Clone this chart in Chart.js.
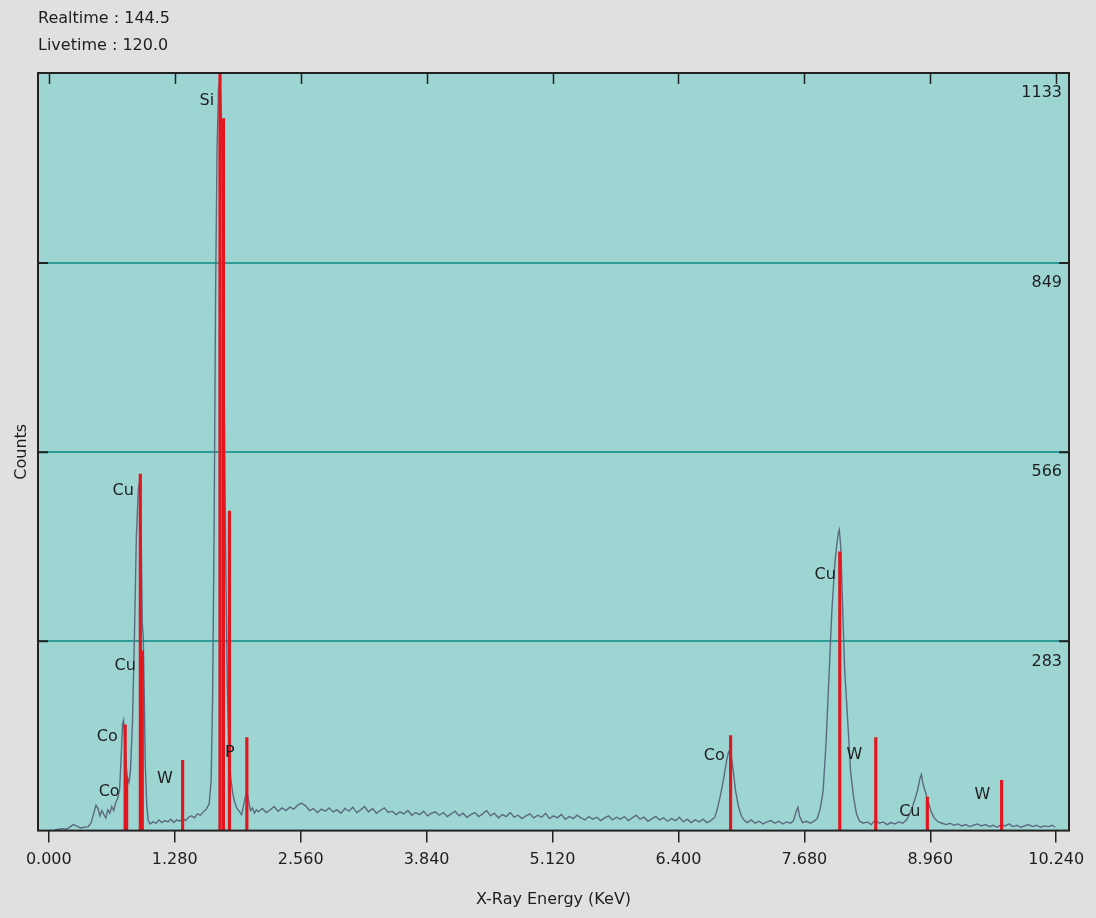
<!DOCTYPE html>
<html>
<head>
<meta charset="utf-8">
<script src="https://cdn.jsdelivr.net/npm/chart.js@4.4.1/dist/chart.umd.min.js"></script>
<style>
  html, body { margin: 0; padding: 0; background: #e0e0e0; }
  #wrap { width: 1096px; height: 918px; }
</style>
</head>
<body>
<div id="wrap"><canvas id="myChart" width="1096" height="918"></canvas></div>
<script>
// acquisition info
var realtime = '144.5';
var livetime = '120.0';

// axis ticks
var xTicks = [0, 1.28, 2.56, 3.84, 5.12, 6.40, 7.68, 8.96, 10.24];
var xTickLabels = ['0.000', '1.280', '2.560', '3.840', '5.120', '6.400', '7.680', '8.960', '10.240'];
var yTicks = [0, 283, 566, 849, 1133];

// spectrum (energy in keV, counts)
var energies = [
  0.06, 0.10, 0.14, 0.18, 0.22, 0.25, 0.28, 0.32, 0.36, 0.40, 0.43, 0.46, 0.48, 0.50, 0.52, 0.54, 0.56, 0.58, 0.60, 0.62,
  0.64, 0.66, 0.68, 0.70, 0.72, 0.735, 0.75, 0.76, 0.77, 0.785, 0.80, 0.815, 0.83, 0.85, 0.87, 0.89, 0.91, 0.925, 0.94, 0.95,
  0.96, 0.97, 0.98, 0.995, 1.01, 1.03, 1.06, 1.09, 1.12, 1.15, 1.18, 1.21, 1.24, 1.27, 1.30, 1.33, 1.36, 1.39, 1.42, 1.45,
  1.48, 1.51, 1.54, 1.57, 1.60, 1.63, 1.65, 1.665, 1.68, 1.695, 1.71, 1.725, 1.74, 1.755, 1.77, 1.785, 1.80, 1.815, 1.83, 1.85,
  1.87, 1.89, 1.91, 1.93, 1.96, 1.98, 2.00, 2.015, 2.03, 2.05, 2.07, 2.09, 2.11,
  2.13, 2.17, 2.21, 2.25, 2.29, 2.33, 2.37, 2.41, 2.45, 2.49, 2.53, 2.57, 2.61, 2.65, 2.69, 2.73, 2.77, 2.81, 2.85, 2.89,
  2.93, 2.97, 3.01, 3.05, 3.09, 3.13, 3.17, 3.21, 3.25, 3.29, 3.33, 3.37, 3.41, 3.45, 3.49, 3.53, 3.57, 3.61, 3.65, 3.69,
  3.73, 3.77, 3.81, 3.85, 3.89, 3.93, 3.97, 4.01, 4.05, 4.09, 4.13, 4.17, 4.21, 4.25, 4.29, 4.33, 4.37, 4.41, 4.45, 4.49,
  4.53, 4.57, 4.61, 4.65, 4.69, 4.73, 4.77, 4.81, 4.85, 4.89, 4.93, 4.97, 5.01, 5.05, 5.09, 5.13, 5.17, 5.21, 5.25, 5.29,
  5.33, 5.37, 5.41, 5.45, 5.49, 5.53, 5.57, 5.61, 5.65, 5.69, 5.73, 5.77, 5.81, 5.85, 5.89, 5.93, 5.97, 6.01, 6.05, 6.09,
  6.13, 6.17, 6.21, 6.25, 6.29, 6.33, 6.37, 6.41, 6.45, 6.49, 6.53, 6.57, 6.61, 6.65, 6.69, 6.73,
  6.77, 6.80, 6.83, 6.86, 6.89, 6.91, 6.925, 6.94, 6.96, 6.98, 7.01, 7.04, 7.07, 7.10, 7.14, 7.18, 7.22, 7.26, 7.30, 7.34,
  7.38, 7.42, 7.46, 7.50, 7.54, 7.57, 7.60, 7.615, 7.63, 7.66, 7.70, 7.74, 7.78, 7.81, 7.84, 7.87, 7.90, 7.93, 7.96, 7.99,
  8.01, 8.025, 8.035, 8.05, 8.07, 8.09, 8.11, 8.13, 8.15, 8.18, 8.21, 8.24, 8.28, 8.32, 8.36, 8.40, 8.44, 8.48, 8.52, 8.56,
  8.60, 8.64, 8.68, 8.72, 8.76, 8.80, 8.83, 8.855, 8.87, 8.885, 8.91, 8.94, 8.97, 9.00, 9.04, 9.08, 9.12, 9.16, 9.20, 9.24,
  9.28, 9.32, 9.36, 9.40, 9.44, 9.48, 9.52, 9.56, 9.60, 9.64, 9.68, 9.72, 9.76, 9.80, 9.84, 9.88, 9.92, 9.96, 10.00, 10.04,
  10.08, 10.12, 10.16, 10.20, 10.23
];
var counts = [
  1, 2, 3, 2, 6, 9, 7, 4, 5, 6, 12, 28, 38, 33, 22, 30, 24, 19, 31, 26,
  36, 30, 42, 48, 62, 110, 160, 165, 140, 100, 78, 72, 90, 160, 290, 440, 510, 525, 430, 310,
  290, 200, 100, 40, 15, 10, 13, 11, 16, 12, 15, 13, 17, 12, 16, 14, 18, 15, 20, 22,
  19, 25, 23, 28, 32, 40, 75, 200, 450, 800, 1020, 1110, 1125, 1060, 880, 620, 380, 210, 120, 78,
  55, 42, 34, 30, 24, 38, 52, 58, 45, 30, 34, 26, 31,
  28, 33, 27, 31, 36, 29, 34, 30, 35, 32, 38, 41, 37, 30, 33, 27, 32, 29, 34, 28,
  31, 26, 33, 29, 35, 27, 31, 36, 28, 33, 26, 30, 34, 27, 29, 24, 28, 25, 30, 23,
  27, 24, 29, 22, 26, 28, 23, 27, 21, 25, 29, 22, 26, 20, 24, 27, 21, 25, 30, 22,
  26, 19, 24, 21, 27, 20, 23, 18, 22, 25, 19, 23, 20, 26, 18, 22, 19, 24, 17, 21,
  18, 23, 19, 16, 21, 17, 20, 15, 19, 22, 16, 20, 17, 21, 15, 19, 23, 17, 20, 14,
  18, 21, 16, 19, 14, 18, 15, 20, 13, 17, 12, 16, 13, 17, 12, 15,
  20, 35, 55, 78, 105, 118, 121, 108, 86, 60, 36, 22, 15, 12, 16, 11, 14, 10, 13, 15,
  11, 14, 10, 13, 11, 15, 30, 35, 22, 12, 14, 11, 14, 18, 32, 58, 130, 230, 330, 400,
  428, 445, 450, 425, 330, 240, 190, 140, 88, 50, 25, 14, 11, 13, 9, 16, 11, 13, 9, 12,
  10, 13, 11, 16, 28, 45, 60, 78, 84, 70, 58, 42, 28, 19, 13, 11, 9, 11, 8, 10,
  7, 9, 6, 8, 10, 7, 9, 6, 8, 5, 9, 7, 10, 6, 8, 5, 7, 9, 6, 8,
  5, 7, 6, 8, 5
];

// element marker lines (keV, height in counts)
var lineEnergies = [0.776, 0.791, 0.930, 0.950, 1.360, 1.740, 1.775, 1.836, 2.013, 6.930, 8.040, 8.406, 8.930, 9.685];
var lineHeights = [158, 80, 533, 269, 105, 1250, 1065, 478, 139, 142, 417, 139, 50, 75];

// element labels (text, right edge keV, counts)
var labelTexts = ['Si', 'Cu', 'Cu', 'Co', 'Co', 'W', 'P', 'Co', 'Cu', 'W', 'Cu', 'W'];
var labelEnergies = [1.68, 0.865, 0.885, 0.70, 0.72, 1.26, 1.89, 6.87, 8.00, 8.27, 8.86, 9.57];
var labelCounts = [1092, 508, 247, 140, 58, 77, 117, 112, 383, 114, 28, 53];

var FONT = 'DejaVu Sans';
var TEXT = '#1e1e1e';

//Build point lists
var spectrum = energies.map(function(e, i){ return {x: e, y: counts[i]}; });
var markers = lineEnergies.map(function(e, i){ return {x: e, y: lineHeights[i]}; });

//Plot background, frame, ticks and texts
var framePlugin = {
    id: 'frame',
    beforeDraw: function(chart){
        var c = chart.ctx, a = chart.chartArea;
        c.save();
        c.fillStyle = '#e0e0e0';
        c.fillRect(0, 0, chart.width, chart.height);
        c.fillStyle = '#9dd5d2';
        c.fillRect(a.left, a.top, a.right - a.left, a.bottom - a.top);
        c.restore();
    },
    afterDraw: function(chart){
        var c = chart.ctx, a = chart.chartArea;
        var xs = chart.scales.x, ys = chart.scales.y;
        c.save();
        c.strokeStyle = '#222';
        c.lineWidth = 2;
        c.strokeRect(a.left, a.top, a.right - a.left, a.bottom - a.top);

        // ticks pointing into the plot along the top
        c.lineWidth = 1.5;
        xTicks.forEach(function(v){
            var px = Math.round(xs.getPixelForValue(v)) + 0.5;
            c.beginPath();
            c.moveTo(px, a.top);
            c.lineTo(px, a.top + 11);
            c.stroke();
        });
        // dark ends of the grid lines
        c.lineWidth = 2;
        yTicks.slice(1, -1).forEach(function(v){
            var py = ys.getPixelForValue(v);
            c.beginPath();
            c.moveTo(a.left, py); c.lineTo(a.left + 10, py);
            c.moveTo(a.right - 10, py); c.lineTo(a.right, py);
            c.stroke();
        });

        // element labels
        c.fillStyle = TEXT;
        c.font = '16px "' + FONT + '"';
        c.textAlign = 'right';
        c.textBaseline = 'middle';
        labelTexts.forEach(function(t, i){
            c.fillText(t, xs.getPixelForValue(labelEnergies[i]), ys.getPixelForValue(labelCounts[i]));
        });

        // header
        c.textAlign = 'left';
        c.fillText('Realtime : ' + realtime, 38, 19);
        c.fillText('Livetime : ' + livetime, 38, 46);

        // y title
        c.translate(22, (a.top + a.bottom) / 2);
        c.rotate(-Math.PI / 2);
        c.textAlign = 'center';
        c.fillText('Counts', 0, 0);
        c.restore();
    }
};

var ctx = document.getElementById('myChart');
var myChart = new Chart(ctx, {
    data: {
        datasets: [{
            type: 'bar',
            data: markers,
            backgroundColor: '#e3161f',
            barThickness: 2.5,
            order: 0
        }, {
            type: 'line',
            data: spectrum,
            borderColor: '#5c6a80',
            borderWidth: 1.4,
            pointRadius: 0,
            tension: 0,
            fill: false,
            order: 1
        }]
    },
    options: {
        responsive: false,
        animation: false,
        layout: { padding: { left: 38, right: 27, top: 73, bottom: 5 } },
        plugins: { legend: { display: false }, tooltip: { enabled: false } },
        scales: {
            x: {
                type: 'linear',
                offset: false,
                min: -0.11,
                max: 10.37,
                afterBuildTicks: function(axis){
                    axis.ticks = xTicks.map(function(v){ return {value: v}; });
                },
                ticks: {
                    autoSkip: false,
                    maxRotation: 0,
                    padding: 8,
                    color: TEXT,
                    font: { family: FONT, size: 16 },
                    callback: function(v, i){ return xTickLabels[i]; }
                },
                grid: { offset: false, drawOnChartArea: false, drawTicks: true, tickLength: 12, color: '#222', lineWidth: 1.5 },
                border: { display: false },
                title: {
                    display: true,
                    text: 'X-Ray Energy (KeV)',
                    color: TEXT,
                    font: { family: FONT, size: 16 },
                    padding: { top: 12, bottom: 4 }
                }
            },
            y: {
                position: 'right',
                min: 0,
                max: 1133,
                afterBuildTicks: function(axis){
                    axis.ticks = yTicks.map(function(v){ return {value: v}; });
                },
                ticks: {
                    mirror: true,
                    padding: -7,
                    labelOffset: 20,
                    color: TEXT,
                    font: { family: FONT, size: 16 },
                    callback: function(v){ return v === 0 ? '' : String(v); }
                },
                grid: {
                    drawTicks: false,
                    lineWidth: 2,
                    color: function(c){
                        var v = c.tick ? c.tick.value : 0;
                        return (v === 0 || v === 1133) ? 'rgba(0,0,0,0)' : '#2e9c97';
                    }
                },
                border: { display: false }
            }
        }
    },
    plugins: [framePlugin]
});
</script>
</body>
</html>
